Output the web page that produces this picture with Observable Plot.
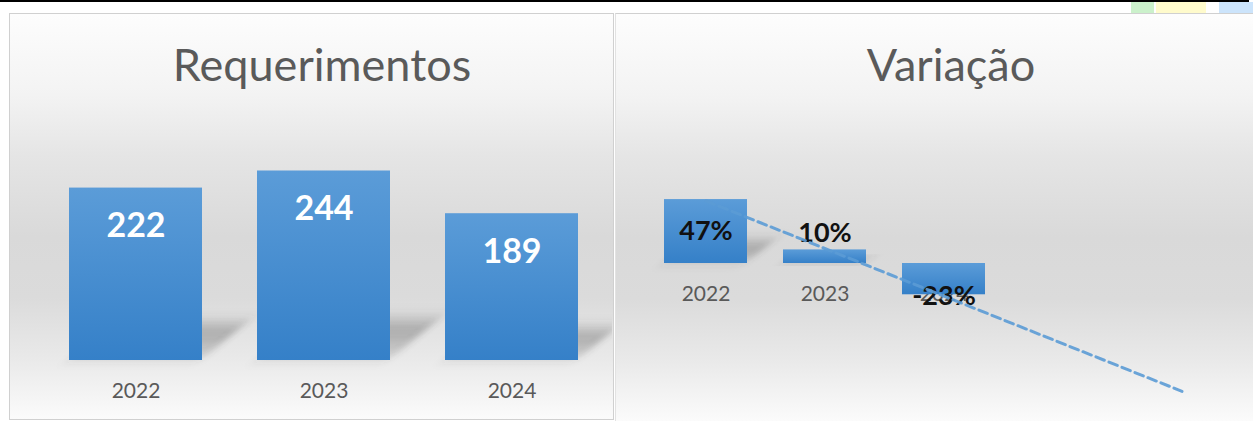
<!DOCTYPE html>
<html><head><meta charset="utf-8">
<script src="https://cdn.jsdelivr.net/npm/d3@7"></script>
<script src="https://cdn.jsdelivr.net/npm/@observablehq/plot@0.6"></script>
<style>
html,body{margin:0;padding:0;background:#fff;width:1253px;height:421px;overflow:hidden;font-family:Lato,"Open Sans",sans-serif;}
#topline{position:absolute;left:0;top:0;width:1249px;height:2px;background:#000;}
.tab{position:absolute;top:2px;height:11px;}
.panel{position:absolute;top:13px;box-sizing:border-box;
  background:linear-gradient(to bottom,#fdfdfd 0%,#f3f3f3 20%,#e5e5e5 35%,#d9d9d9 55%,#dbdbdb 70%,#e9e9e9 85%,#fbfbfb 100%);}
#leftPanel{left:9px;width:605px;height:407px;border:1px solid #d0d0d0;}
#rightPanel{left:615px;width:640px;height:408px;border-top:1px solid #d0d0d0;border-left:1px solid #e2e2e2;}
.title{position:absolute;top:42px;height:44px;line-height:44px;text-align:center;font-size:45px;color:#5a5a5a;white-space:nowrap;}
.chart{position:absolute;top:120px;}
</style></head>
<body>
<div id="topline"></div>
<div class="tab" style="left:1131px;width:23px;background:#cbf1cb;"></div>
<div class="tab" style="left:1156px;width:50px;background:#fffbcc;"></div>
<div class="tab" style="left:1219px;width:34px;background:#cce4fb;"></div>
<div class="panel" id="leftPanel"></div>
<div class="panel" id="rightPanel"></div>
<div class="title" style="left:0;width:644px;">Requerimentos</div>
<div class="title" style="left:851px;width:200px;">Variação</div>
<div class="chart" id="leftChart" style="left:8px;"></div>
<div class="chart" id="rightChart" style="left:614px;"></div>
<script>
const years = [2022, 2023, 2024];
const requerimentos = [222, 244, 189];
const variacao = [47, 10, -23];
const variacaoDomain = [2022, 2023, 2024, 2025, 2026];
const trendYears = [2022, 2026];
const trendValues = [46, -94];

const leftData = years.map((y, i) => ({year: y, v: requerimentos[i]}));
const rightData = years.map((y, i) => ({year: y, v: variacao[i]}));
const trendData = trendYears.map((y, i) => ({year: y, v: trendValues[i]}));

const baseStyle = {background: "transparent", fontFamily: "Lato, 'Open Sans', sans-serif", overflow: "visible"};

const left = Plot.plot({
  width: 604, height: 300,
  marginTop: 7, marginBottom: 60, marginLeft: 42, marginRight: 15,
  style: {...baseStyle, overflow: "hidden"},
  x: {type: "band", domain: years, paddingInner: 0.293, paddingOuter: 0.1, axis: null},
  y: {domain: [0, 300], axis: null},
  marks: [
    Plot.barY(leftData, {x: "year", y1: 0, y2: d => d.v * 0.25, fill: "url(#shadowGrad)", ariaLabel: () => "shadow"}),
    Plot.barY(leftData, {x: "year", y: "v", fill: "url(#barGrad)"}),
    Plot.text(leftData, {x: "year", y: "v", text: d => String(d.v), dy: 38, fill: "white", fontSize: 34, fontWeight: "bold"}),
    Plot.text(leftData, {x: "year", y: 0, text: d => String(d.year), dy: 31, fill: "#595959", fontSize: 21})
  ]
});

const right = Plot.plot({
  width: 639, height: 300,
  marginTop: 61.4, marginBottom: 21, marginLeft: 36, marginRight: 15,
  style: baseStyle,
  x: {type: "band", domain: variacaoDomain, paddingInner: 0.3, paddingOuter: 0.1, axis: null},
  y: {domain: [-100, 60], axis: null},
  marks: [
    Plot.text(rightData, {x: "year", y: 0, text: d => String(d.year), dy: 31, fill: "#595959", fontSize: 21}),
    Plot.barY(rightData.filter(d => d.v > 0), {x: "year", y1: 0, y2: d => d.v * 0.4, fill: "url(#shadowGrad)", ariaLabel: () => "shadow"}),
    Plot.barY(rightData, {x: "year", y: "v", fill: "url(#barGrad)"}),
    Plot.text(rightData.filter(d => d.v > 30), {x: "year", y: d => d.v / 2, text: d => d.v + "%", fill: "#111", fontSize: 27, fontWeight: "bold"}),
    Plot.text(rightData.filter(d => d.v > 0 && d.v <= 30), {x: "year", y: "v", text: d => d.v + "%", dy: -16.5, fill: "#111", fontSize: 27, fontWeight: "bold"}),
    Plot.text(rightData.filter(d => d.v < 0), {x: "year", y: "v", text: d => d.v + "%", dy: 2, fill: "#111", fontSize: 27, fontWeight: "bold"}),
    Plot.line(trendData, {x: "year", y: "v", stroke: "#5b9bd5", strokeWidth: 3, strokeDasharray: "9,5", strokeOpacity: 0.9})
  ]
});

function addDefs(svg) {
  const s = d3.select(svg);
  const defs = s.insert("defs", ":first-child");
  const g = defs.append("linearGradient").attr("id", "barGrad").attr("x1", 0).attr("y1", 0).attr("x2", 0).attr("y2", 1);
  g.append("stop").attr("offset", "0%").attr("stop-color", "#5b9cd8");
  g.append("stop").attr("offset", "100%").attr("stop-color", "#3580c8");
  const sg = defs.append("linearGradient").attr("id", "shadowGrad").attr("x1", 0).attr("y1", 0).attr("x2", 0).attr("y2", 1);
  sg.append("stop").attr("offset", "0%").attr("stop-color", "#444").attr("stop-opacity", 0.05);
  sg.append("stop").attr("offset", "35%").attr("stop-color", "#444").attr("stop-opacity", 0.36);
  sg.append("stop").attr("offset", "100%").attr("stop-color", "#444").attr("stop-opacity", 0.12);
  const f = defs.append("filter").attr("id", "shadowBlur").attr("x", "-50%").attr("y", "-50%").attr("width", "200%").attr("height", "200%");
  f.append("feGaussianBlur").attr("stdDeviation", 5);
}
addDefs(left);

for (const svg of [left, right]) {
  d3.select(svg).selectAll('rect[aria-label="shadow"]').each(function () {
    const r = d3.select(this);
    const y = +r.attr("y"), h = +r.attr("height");
    const bottom = y + h;
    r.attr("transform", `translate(0,${bottom}) skewX(-50) translate(0,${-bottom})`)
     .attr("filter", "url(#shadowBlur)");
  });
}

document.getElementById("leftChart").appendChild(left);
document.getElementById("rightChart").appendChild(right);
</script>
</body></html>
